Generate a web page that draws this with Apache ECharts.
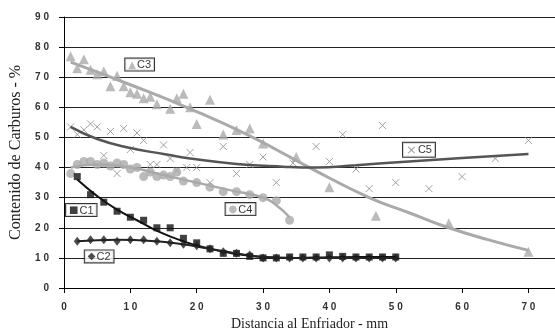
<!DOCTYPE html>
<html>
<head>
<meta charset="utf-8">
<script src="https://cdn.jsdelivr.net/npm/echarts@6/dist/echarts.min.js"></script>
<style>
  html, body { margin: 0; padding: 0; background: #fff; }
  #chart { width: 555px; height: 333px; }
</style>
</head>
<body>
<div id="chart"></div>
<script>
  // measured points (distance mm, carbide %)
  var c3X = [1, 2, 3, 4, 5, 6, 7, 8, 9, 10, 11, 12, 13, 14, 16, 17, 18, 19, 20, 22, 24, 26, 28, 30, 35, 40, 47, 58, 70];
  var c3Y = [77, 73, 76, 72.5, 71, 72, 67, 70.5, 67, 65, 64.5, 63, 63.5, 61, 59.5, 63, 64.5, 60, 54.5, 62.5, 51, 52.5, 53, 48, 43.5, 33.5, 24, 21.5, 12];

  var c5X = [1, 2, 3, 4, 5, 6, 7, 8, 9, 10, 11, 12, 13, 14, 15, 16, 17, 18.5, 19, 20, 22, 24, 26, 28, 30, 32, 34.5, 38, 40, 42, 44, 46, 48, 50, 55, 60, 65, 70];
  var c5Y = [53.5, 51, 52.5, 54.5, 53.5, 44, 52, 38, 53, 46, 51.5, 49, 41, 41, 47.5, 43, 39, 40, 45, 40, 35, 47, 38, 41, 43.5, 35, 41.5, 47, 42, 51, 39.5, 33, 54, 35, 33, 37, 43, 49];

  var c4X = [1, 2, 3, 4, 5, 6, 7, 8, 9, 10, 11, 12, 13, 14, 15, 16, 17, 18, 20, 22, 24, 26, 28, 30, 32, 34];
  var c4Y = [38, 41, 42, 42, 41, 41.5, 40.5, 41.5, 41, 39.5, 40, 37, 38.5, 37, 37.5, 37, 38.5, 35.5, 35, 33.5, 32, 32, 31, 30, 29, 22.5];

  var c1X = [2, 4, 6, 8, 10, 12, 14, 16, 18, 20, 22, 24, 26, 28, 30, 32, 34, 36, 38, 40, 42, 44, 46, 48, 50];
  var c1Y = [37, 31, 28.5, 25.5, 23.5, 22.5, 20, 20, 16.5, 15, 13, 11.5, 11.5, 10.5, 10, 10, 10.3, 10.3, 10.3, 11, 10.5, 10.3, 10.3, 10.3, 10.3];

  var c2X = [2, 4, 6, 8, 10, 12, 14, 16, 18, 20, 22, 24, 26, 28, 30, 32, 34, 36, 38, 40, 42, 44, 46, 48, 50];
  var c2Y = [15.5, 16, 16, 15.5, 16, 16, 15.5, 15, 14.5, 14, 13, 12, 11.5, 11, 10, 10, 10, 10, 10, 10, 10, 10, 10, 10, 10];

  // trend lines
  var c3Trend = [[1, 75], [10, 67.5], [19, 59.5], [28, 50.5], [37, 40], [46, 30], [52, 25], [58, 20], [64, 16], [70, 12.5]];
  var c5Trend = [[1, 53.5], [5, 49.5], [10, 46.5], [15, 44.5], [19, 43], [26, 41.2], [33, 40.3], [38, 40], [44, 40.8], [52, 42], [60, 43.2], [70, 44.5]];
  var c4Trend = [[1, 40], [5, 41], [10, 40], [15, 37.5], [20, 35], [25, 32.5], [30, 30], [32, 27.5], [34, 23.5]];
  var c1Trend = [[2, 36], [5, 30.5], [8, 26], [11, 22.5], [14, 19], [18, 15.5], [22, 13], [26, 11.3], [30, 10.3], [35, 10], [40, 10.2], [45, 10.3], [50, 10.3]];
  var c2Trend = [[2, 15.5], [8, 16], [14, 15.5], [18, 14.5], [22, 13], [26, 11.5], [30, 10.3], [35, 10], [50, 10]];

  // boxed series labels
  var tagNames = ['C3', 'C5', 'C4', 'C1', 'C2'];
  var tagGlyphs = ['\u25B2', '\u00D7', '\u25CF', '\u25A0', '\u25C6'];
  var tagColors = ['#aaaaaa', '#888888', '#aaaaaa', '#111111', '#222222'];
  var tagPos = [[11.4, 74.2], [53.5, 45.9], [26.6, 26.2], [2.6, 25.9], [5.3, 10.5]];

  var yTicks = [0, 10, 20, 30, 40, 50, 60, 70, 80, 90];

  function pairs(xs, ys) {
    return xs.map(function (x, i) { return [x, ys[i]]; });
  }
  function spaced(v) {
    return String(v).split('').join(' ');
  }

  var crossPath = 'path://M0,0L10,10M10,0L0,10';

  var chart = echarts.init(document.getElementById('chart'));

  var tagData = tagNames.map(function (n, i) {
    return {
      value: tagPos[i],
      label: {
        formatter: '{m|' + tagGlyphs[i] + '}{t|' + n + '}',
        rich: {
          m: { color: tagColors[i], fontSize: i === 1 ? 13 : 10, fontFamily: 'DejaVu Sans', padding: [0, 1, 0, 0] },
          t: { color: '#000', fontSize: 11, fontFamily: 'Liberation Sans' }
        }
      }
    };
  });

  chart.setOption({
    animation: false,
    backgroundColor: '#fff',
    grid: { left: 64, right: 0, top: 17, bottom: 45, outerBoundsMode: 'none' },
    xAxis: {
      type: 'value',
      min: 0,
      max: 74,
      interval: 10,
      name: 'Distancia al Enfriador - mm',
      nameLocation: 'middle',
      nameGap: 27,
      nameTextStyle: { fontFamily: 'Liberation Serif', fontSize: 14, color: '#222' },
      axisLine: { lineStyle: { color: '#000', width: 1 } },
      axisTick: { show: true, length: 5, lineStyle: { color: '#000' } },
      axisLabel: {
        margin: 14,
        fontSize: 10,
        fontWeight: 'bold',
        fontFamily: 'Liberation Sans',
        color: '#333',
        showMaxLabel: false,
        formatter: function (v) { return v % 10 === 0 ? spaced(v) : ''; }
      },
      splitLine: { show: false }
    },
    yAxis: {
      type: 'value',
      min: 0,
      max: 90,
      interval: 10,
      name: 'Contenido de Carburos - %',
      nameLocation: 'middle',
      nameGap: 35,
      nameTextStyle: { fontFamily: 'Liberation Serif', fontSize: 16, color: '#222' },
      axisLine: { show: true, lineStyle: { color: '#000', width: 1 } },
      axisTick: { show: true, length: 5, lineStyle: { color: '#000' } },
      axisLabel: {
        margin: 15,
        fontSize: 10,
        fontWeight: 'bold',
        fontFamily: 'Liberation Sans',
        color: '#333',
        formatter: function (v) { return yTicks.indexOf(v) >= 0 ? spaced(v) : ''; }
      },
      splitLine: { show: true, lineStyle: { color: '#222', width: 1 } }
    },
    series: [
      { type: 'scatter', data: pairs(c3X, c3Y), symbol: 'triangle', symbolSize: 10, itemStyle: { color: '#aaaaaa' } },
      { type: 'scatter', data: pairs(c5X, c5Y), symbol: crossPath, symbolSize: 7, itemStyle: { color: 'none', borderColor: '#8a8a8a', borderWidth: 1 } },
      { type: 'scatter', data: pairs(c4X, c4Y), symbol: 'circle', symbolSize: 9, itemStyle: { color: '#aaaaaa' } },
      { type: 'scatter', data: pairs(c1X, c1Y), symbol: 'rect', symbolSize: 7, itemStyle: { color: '#111111' } },
      { type: 'scatter', data: pairs(c2X, c2Y), symbol: 'diamond', symbolSize: [7, 9], itemStyle: { color: '#222222' } },

      { type: 'line', data: c3Trend, smooth: true, showSymbol: false, lineStyle: { color: '#aaaaaa', width: 3 } },
      { type: 'line', data: c5Trend, smooth: true, showSymbol: false, lineStyle: { color: '#555555', width: 2.5 } },
      { type: 'line', data: c4Trend, smooth: true, showSymbol: false, lineStyle: { color: '#aaaaaa', width: 2.5 } },
      { type: 'line', data: c1Trend, smooth: true, showSymbol: false, lineStyle: { color: '#111111', width: 2 } },
      { type: 'line', data: c2Trend, smooth: true, showSymbol: false, lineStyle: { color: '#222222', width: 2 } },

      {
        type: 'scatter',
        data: tagData,
        symbolSize: 0,
        z: 10,
        label: {
          show: true,
          position: 'inside',
          backgroundColor: '#fff',
          borderColor: '#000',
          borderWidth: 1,
          padding: [1, 3, 0, 3]
        }
      }
    ]
  });
</script>
</body>
</html>
